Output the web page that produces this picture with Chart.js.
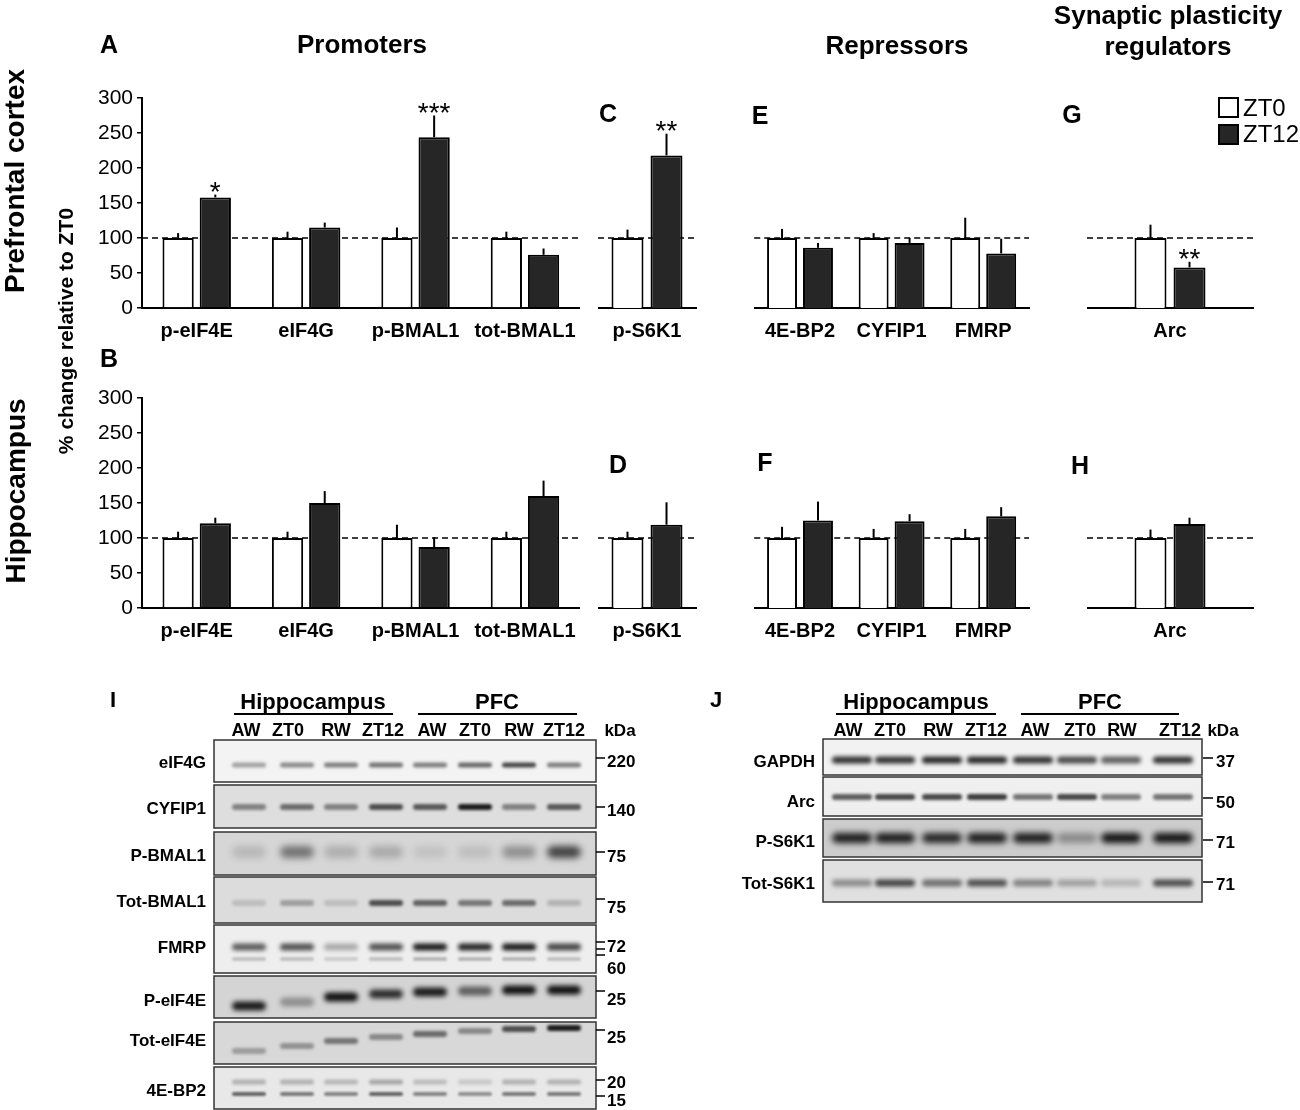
<!DOCTYPE html>
<html>
<head>
<meta charset="utf-8">
<script src="https://cdn.jsdelivr.net/npm/chart.js@4.4.0/dist/chart.umd.min.js"></script>
<style>
body { margin: 0; background: #fff; }
#fig { position: relative; width: 1300px; height: 1110px; overflow: hidden; background: #fff;
       font-family: "Liberation Sans", Arial, sans-serif; color: #000; }
#blots { position: absolute; left: 0; top: 0; }
</style>
</head>
<body>
<div id="fig"><canvas id="blots" width="1300" height="1110"></canvas></div>
<script>
// ---------- chart data ----------
var yTicks = [0, 50, 100, 150, 200, 250, 300];
var refValue = 100;

var promCats = ['p-eIF4E', 'eIF4G', 'p-BMAL1', 'tot-BMAL1'];
var s6kCats = ['p-S6K1'];
var repCats = ['4E-BP2', 'CYFIP1', 'FMRP'];
var arcCats = ['Arc'];

// prefrontal cortex
var pfcPromZT0 = [100, 100, 100, 100];
var pfcPromZT0Sem = [7, 9, 15, 9];
var pfcPromZT12 = [158, 115, 244, 76];
var pfcPromZT12Sem = [4, 7, 31, 9];
var pfcPromStars = ['*', '', '***', ''];

var pfcS6kZT0 = [100];
var pfcS6kZT0Sem = [12];
var pfcS6kZT12 = [218];
var pfcS6kZT12Sem = [31];
var pfcS6kStars = ['**'];

var pfcRepZT0 = [100, 100, 100];
var pfcRepZT0Sem = [13, 7, 29];
var pfcRepZT12 = [86, 93, 78];
var pfcRepZT12Sem = [7, 7, 21];

var pfcArcZT0 = [100];
var pfcArcZT0Sem = [19];
var pfcArcZT12 = [58];
var pfcArcZT12Sem = [8];
var pfcArcStars = ['**'];

// hippocampus
var hipPromZT0 = [100, 100, 100, 100];
var hipPromZT0Sem = [9, 9, 19, 9];
var hipPromZT12 = [121, 150, 87, 160];
var hipPromZT12Sem = [8, 17, 14, 22];

var hipS6kZT0 = [100];
var hipS6kZT0Sem = [9];
var hipS6kZT12 = [119];
var hipS6kZT12Sem = [32];

var hipRepZT0 = [100, 100, 100];
var hipRepZT0Sem = [16, 13, 13];
var hipRepZT12 = [125, 124, 131];
var hipRepZT12Sem = [27, 10, 13];

var hipArcZT0 = [100];
var hipArcZT0Sem = [12];
var hipArcZT12 = [120];
var hipArcZT12Sem = [9];

// ---------- helpers ----------
var fig = document.getElementById('fig');
var FONT = '"Liberation Sans", Arial, sans-serif';
Chart.defaults.font.family = FONT;
Chart.defaults.color = '#000';

function txt(s, x, y, size, opt) {
  var o = opt || {};
  var d = document.createElement('div');
  d.textContent = s;
  var tr = o.align === 'left' ? 'translate(0,-50%)' : (o.align === 'right' ? 'translate(-100%,-50%)' : 'translate(-50%,-50%)');
  if (o.rot) tr += ' rotate(-90deg)';
  d.style.cssText = 'position:absolute;left:' + x + 'px;top:' + y + 'px;font-size:' + size + 'px;font-weight:' +
    (o.normal ? 'normal' : 'bold') + ';line-height:1;white-space:nowrap;transform:' + tr + ';';
  fig.appendChild(d);
}

var refLine = {
  id: 'refLine',
  beforeDatasetsDraw: function(chart) {
    var ctx = chart.ctx, a = chart.chartArea;
    var y = chart.scales.y.getPixelForValue(refValue);
    ctx.save();
    ctx.strokeStyle = '#000';
    ctx.lineWidth = 1.6;
    ctx.setLineDash([6, 4]);
    ctx.beginPath();
    ctx.moveTo(a.left, y);
    ctx.lineTo(a.right, y);
    ctx.stroke();
    ctx.restore();
  }
};

var errorBars = {
  id: 'errorBars',
  afterDatasetsDraw: function(chart) {
    var ctx = chart.ctx, ys = chart.scales.y;
    ctx.save();
    chart.data.datasets.forEach(function(ds, i) {
      var meta = chart.getDatasetMeta(i);
      meta.data.forEach(function(bar, j) {
        var top = ys.getPixelForValue(ds.data[j] + ds.sem[j]);
        ctx.strokeStyle = '#000';
        ctx.lineWidth = 2;
        ctx.beginPath();
        ctx.moveTo(bar.x, bar.y);
        ctx.lineTo(bar.x, top);
        ctx.stroke();
        var star = ds.stars && ds.stars[j];
        if (star) {
          ctx.fillStyle = '#000';
          ctx.font = '28px ' + FONT;
          ctx.textAlign = 'center';
          ctx.textBaseline = 'alphabetic';
          ctx.fillText(star, bar.x, top + 6);
        }
      });
    });
    ctx.restore();
  }
};

function makePanel(p) {
  var yw = p.yAxis ? 82 : 0;
  var left = p.l - yw, top = p.t - 20;
  var w = p.r + 4 - left, h = p.b + 50 - top;
  var cv = document.createElement('canvas');
  cv.width = w; cv.height = h;
  cv.style.cssText = 'position:absolute;left:' + left + 'px;top:' + top + 'px;width:' + w + 'px;height:' + h + 'px;';
  fig.appendChild(cv);
  new Chart(cv, {
    type: 'bar',
    data: {
      labels: p.cats,
      datasets: [
        { label: 'ZT0', data: p.zt0, sem: p.zt0Sem, stars: [], backgroundColor: '#fff',
          borderColor: '#000', borderWidth: 2, categoryPercentage: p.catPct, barPercentage: p.barPct },
        { label: 'ZT12', data: p.zt12, sem: p.zt12Sem, stars: p.stars || [], backgroundColor: '#262626',
          borderColor: '#000', borderWidth: 2, categoryPercentage: p.catPct, barPercentage: p.barPct }
      ]
    },
    options: {
      responsive: false,
      animation: false,
      layout: { padding: { top: 20, right: 4, left: 0, bottom: 0 } },
      plugins: { legend: { display: false }, tooltip: { enabled: false } },
      scales: {
        x: {
          grid: { display: false, drawTicks: false },
          border: { display: true, color: '#000', width: 2 },
          ticks: { font: { size: 20, weight: 'bold' }, color: '#000', padding: 11, maxRotation: 0, autoSkip: false },
          afterFit: function(s) { s.height = 50; }
        },
        y: {
          display: p.yAxis,
          min: 0, max: 300,
          afterBuildTicks: function(s) { s.ticks = yTicks.map(function(v) { return { value: v }; }); },
          grid: { display: true, drawOnChartArea: false, drawTicks: true, tickLength: 5, color: '#000', lineWidth: 1.5 },
          border: { display: true, color: '#000', width: 2 },
          ticks: { font: { size: 21 }, color: '#000', padding: 4 },
          afterFit: function(s) { s.width = yw; }
        }
      }
    },
    plugins: [refLine, errorBars]
  });
}

// ---------- panels ----------
var rowTop = { t: 98, b: 308 }, rowBot = { t: 398, b: 608 };
var cols = {
  prom: { l: 142, r: 583, catPct: 0.68, barPct: 0.84, yAxis: true },
  s6k: { l: 598, r: 696, catPct: 0.796, barPct: 0.82, yAxis: false },
  rep: { l: 754, r: 1029, catPct: 0.785, barPct: 0.833, yAxis: false },
  arc: { l: 1087, r: 1253, catPct: 0.47, barPct: 0.82, yAxis: false }
};
function panel(col, row, extra) {
  var p = Object.assign({}, cols[col], row, extra);
  makePanel(p);
}
panel('prom', rowTop, { cats: promCats, zt0: pfcPromZT0, zt0Sem: pfcPromZT0Sem, zt12: pfcPromZT12, zt12Sem: pfcPromZT12Sem, stars: pfcPromStars });
panel('s6k', rowTop, { cats: s6kCats, zt0: pfcS6kZT0, zt0Sem: pfcS6kZT0Sem, zt12: pfcS6kZT12, zt12Sem: pfcS6kZT12Sem, stars: pfcS6kStars });
panel('rep', rowTop, { cats: repCats, zt0: pfcRepZT0, zt0Sem: pfcRepZT0Sem, zt12: pfcRepZT12, zt12Sem: pfcRepZT12Sem });
panel('arc', rowTop, { cats: arcCats, zt0: pfcArcZT0, zt0Sem: pfcArcZT0Sem, zt12: pfcArcZT12, zt12Sem: pfcArcZT12Sem, stars: pfcArcStars });
panel('prom', rowBot, { cats: promCats, zt0: hipPromZT0, zt0Sem: hipPromZT0Sem, zt12: hipPromZT12, zt12Sem: hipPromZT12Sem });
panel('s6k', rowBot, { cats: s6kCats, zt0: hipS6kZT0, zt0Sem: hipS6kZT0Sem, zt12: hipS6kZT12, zt12Sem: hipS6kZT12Sem });
panel('rep', rowBot, { cats: repCats, zt0: hipRepZT0, zt0Sem: hipRepZT0Sem, zt12: hipRepZT12, zt12Sem: hipRepZT12Sem });
panel('arc', rowBot, { cats: arcCats, zt0: hipArcZT0, zt0Sem: hipArcZT0Sem, zt12: hipArcZT12, zt12Sem: hipArcZT12Sem });

// ---------- figure texts ----------
txt('A', 109, 44, 25);
txt('Promoters', 362, 44, 26);
txt('Repressors', 897, 45, 26);
txt('Synaptic plasticity', 1168, 15, 26);
txt('regulators', 1168, 46, 26);
txt('C', 608, 113, 25);
txt('E', 760, 115, 25);
txt('G', 1072, 114, 25);
txt('B', 109, 358, 25);
txt('D', 618, 464, 25);
txt('F', 765, 462, 25);
txt('H', 1080, 465, 25);
txt('Prefrontal cortex', 15, 181, 28, { rot: true });
txt('Hippocampus', 16, 491, 28, { rot: true });
txt('% change relative to ZT0', 65, 331, 21, { rot: true });

// legend
function legendBox(y, fill) {
  var d = document.createElement('div');
  d.style.cssText = 'position:absolute;left:1218px;top:' + y + 'px;width:17px;height:17px;border:2px solid #000;background:' + fill + ';';
  fig.appendChild(d);
}
legendBox(97, '#fff');
legendBox(124, '#262626');
txt('ZT0', 1243, 108, 24, { align: 'left', normal: true });
txt('ZT12', 1243, 134, 24, { align: 'left', normal: true });

// ---------- western blots ----------
var laneNames = ['AW', 'ZT0', 'RW', 'ZT12', 'AW', 'ZT0', 'RW', 'ZT12'];
var blotI = {
  letter: 'I', letterX: 113, left: 214, right: 596, bandW: 34,
  lanes: [249, 297, 341, 386, 430, 475, 519, 564],
  laneLabelX: [246, 288, 336, 383, 432, 475, 519, 564], kdaX: 620,
  hippo: [234, 393, 313], pfc: [418, 577, 497],
  labelRight: 206, tick: [596, 605], markX: 607,
  rows: [
    { name: 'eIF4G', top: 740, bottom: 782, bg: '#f3f3f3', ly: 762,
      bands: [{ y: 765, h: 5, a: [0.35, 0.45, 0.5, 0.55, 0.5, 0.6, 0.75, 0.5] }],
      marks: [{ t: '220', y: 761, tick: [758] }] },
    { name: 'CYFIP1', top: 785, bottom: 828, bg: '#dedede', ly: 808,
      bands: [{ y: 807, h: 6, a: [0.45, 0.55, 0.45, 0.7, 0.65, 0.95, 0.45, 0.65] }],
      marks: [{ t: '140', y: 810, tick: [807] }] },
    { name: 'P-BMAL1', top: 832, bottom: 875, bg: '#d6d6d6', ly: 855,
      bands: [{ y: 852, h: 12, a: [0.15, 0.5, 0.2, 0.22, 0.1, 0.12, 0.35, 0.75] }],
      marks: [{ t: '75', y: 856, tick: [852] }] },
    { name: 'Tot-BMAL1', top: 877, bottom: 923, bg: '#dcdcdc', ly: 901,
      bands: [{ y: 903, h: 6, a: [0.15, 0.3, 0.15, 0.7, 0.6, 0.5, 0.55, 0.2] }],
      marks: [{ t: '75', y: 907, tick: [899] }] },
    { name: 'FMRP', top: 925, bottom: 973, bg: '#eeeeee', ly: 947,
      bands: [{ y: 947, h: 7, a: [0.65, 0.7, 0.3, 0.7, 0.95, 0.9, 0.95, 0.75] },
              { y: 959, h: 4, a: [0.2, 0.2, 0.15, 0.2, 0.25, 0.25, 0.25, 0.2] }],
      marks: [{ t: '72', y: 946, tick: [942, 949] }, { t: '60', y: 968, tick: [955] }] },
    { name: 'P-eIF4E', top: 976, bottom: 1018, bg: '#d4d4d4', ly: 1000,
      bands: [{ y: [1006, 1002, 997, 994, 992, 991, 990, 990], h: 9, a: [0.95, 0.35, 1, 0.85, 0.95, 0.6, 1, 1] }],
      marks: [{ t: '25', y: 999, tick: [991] }] },
    { name: 'Tot-eIF4E', top: 1022, bottom: 1064, bg: '#d8d8d8', ly: 1040,
      bands: [{ y: [1051, 1046, 1041, 1037, 1034, 1031, 1029, 1028], h: 6, a: [0.3, 0.35, 0.5, 0.4, 0.55, 0.4, 0.7, 0.95] }],
      marks: [{ t: '25', y: 1037, tick: [1030] }] },
    { name: '4E-BP2', top: 1067, bottom: 1109, bg: '#e8e8e8', ly: 1090,
      bands: [{ y: 1082, h: 5, a: [0.25, 0.25, 0.22, 0.3, 0.2, 0.15, 0.25, 0.25] },
              { y: 1094, h: 4, a: [0.6, 0.5, 0.45, 0.6, 0.45, 0.4, 0.5, 0.5] }],
      marks: [{ t: '20', y: 1082, tick: [1080] }, { t: '15', y: 1100, tick: [1096] }] }
  ]
};
var blotJ = {
  letter: 'J', letterX: 716, left: 823, right: 1202, bandW: 40,
  lanes: [852, 895, 942, 987, 1033, 1077, 1121, 1173],
  laneLabelX: [848, 890, 938, 986, 1035, 1080, 1122, 1180], kdaX: 1223,
  hippo: [836, 996, 916], pfc: [1021, 1179, 1100],
  labelRight: 815, tick: [1203, 1213], markX: 1216,
  rows: [
    { name: 'GAPDH', top: 739, bottom: 775, bg: '#f2f2f2', ly: 761,
      bands: [{ y: 760, h: 7, a: [0.85, 0.85, 0.9, 0.9, 0.85, 0.75, 0.65, 0.85] }],
      marks: [{ t: '37', y: 761, tick: [758] }] },
    { name: 'Arc', top: 777, bottom: 816, bg: '#efefef', ly: 801,
      bands: [{ y: 797, h: 6, a: [0.65, 0.75, 0.75, 0.8, 0.55, 0.75, 0.5, 0.55] }],
      marks: [{ t: '50', y: 802, tick: [798] }] },
    { name: 'P-S6K1', top: 819, bottom: 857, bg: '#cccccc', ly: 841,
      bands: [{ y: 838, h: 10, a: [0.95, 0.95, 0.9, 0.95, 0.95, 0.35, 1, 1] }],
      marks: [{ t: '71', y: 842, tick: [840] }] },
    { name: 'Tot-S6K1', top: 860, bottom: 902, bg: '#e0e0e0', ly: 883,
      bands: [{ y: 883, h: 7, a: [0.4, 0.75, 0.55, 0.7, 0.45, 0.3, 0.2, 0.7] }],
      marks: [{ t: '71', y: 884, tick: [882] }] }
  ]
};

var bctx = document.getElementById('blots').getContext('2d');
function drawBlot(b) {
  txt(b.letter, b.letterX, 700, 22);
  txt('Hippocampus', b.hippo[2], 702, 22);
  txt('PFC', b.pfc[2], 702, 22);
  bctx.strokeStyle = '#000';
  bctx.lineWidth = 2;
  [b.hippo, b.pfc].forEach(function(u) {
    bctx.beginPath(); bctx.moveTo(u[0], 714); bctx.lineTo(u[1], 714); bctx.stroke();
  });
  laneNames.forEach(function(n, i) { txt(n, b.laneLabelX[i], 730, 18); });
  txt('kDa', b.kdaX, 730, 17);
  b.rows.forEach(function(r) {
    var w = b.right - b.left, h = r.bottom - r.top;
    bctx.save();
    bctx.fillStyle = r.bg;
    bctx.fillRect(b.left, r.top, w, h);
    bctx.beginPath(); bctx.rect(b.left, r.top, w, h); bctx.clip();
    r.bands.forEach(function(bd) {
      b.lanes.forEach(function(x, i) {
        var y = Array.isArray(bd.y) ? bd.y[i] : bd.y;
        bctx.save();
        bctx.filter = 'blur(' + Math.max(1, bd.h * 0.3) + 'px)';
        bctx.fillStyle = 'rgba(15,15,15,' + bd.a[i] + ')';
        bctx.beginPath();
        bctx.roundRect(x - b.bandW / 2, y - bd.h / 2, b.bandW, bd.h, bd.h / 2);
        bctx.fill();
        bctx.restore();
      });
    });
    bctx.restore();
    bctx.strokeStyle = '#333';
    bctx.lineWidth = 1.5;
    bctx.strokeRect(b.left, r.top, w, h);
    txt(r.name, b.labelRight, r.ly, 17, { align: 'right' });
    r.marks.forEach(function(m) {
      bctx.strokeStyle = '#000';
      bctx.lineWidth = 1.5;
      m.tick.forEach(function(ty) {
        bctx.beginPath(); bctx.moveTo(b.tick[0], ty); bctx.lineTo(b.tick[1], ty); bctx.stroke();
      });
      txt(m.t, b.markX, m.y, 17, { align: 'left' });
    });
  });
}
drawBlot(blotI);
drawBlot(blotJ);
</script>
</body>
</html>
